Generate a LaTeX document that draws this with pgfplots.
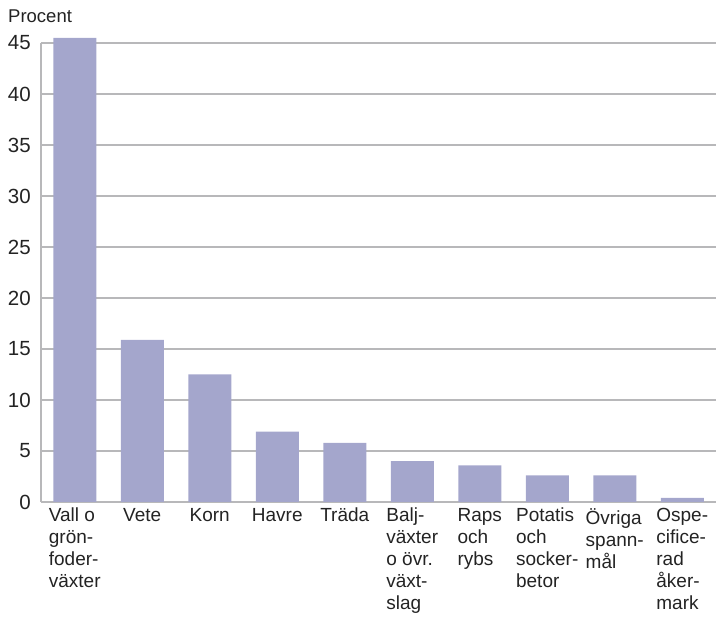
\documentclass[border=0pt]{standalone}
\usepackage{pgfplots}
\pgfplotsset{compat=1.18}
\usepackage{fontspec}
\setmainfont{Liberation Sans}
\definecolor{barcol}{RGB}{164,166,204}
\definecolor{gridcol}{RGB}{184,184,186}
\definecolor{txt}{RGB}{35,35,35}
\begin{document}
\fontsize{18.5}{22}\selectfont
\begin{tikzpicture}
\path[use as bounding box] (-41pt,-115pt) rectangle (675pt,502pt);
\begin{axis}[
    at={(0,0)}, anchor=south west,
    scale only axis,
    width=675pt, height=459pt,
    ybar, bar width=43pt,
    xmin=-0.5, xmax=9.5,
    ymin=0, ymax=45,
    ytick={0,5,...,45},
    xtick={0,...,9},
    xticklabels={
        {Vall o\\grön-\\foder-\\växter},
        {Vete},
        {Korn},
        {Havre},
        {Träda},
        {Balj-\\växter\\o övr.\\växt-\\slag},
        {Raps\\och\\rybs},
        {Potatis\\och\\socker-\\betor},
        {Övriga\\spann-\\mål},
        {Ospe-\\cifice-\\rad\\åker-\\mark}
    },
    axis x line*=bottom,
    axis y line*=left,
    axis line style={draw=gridcol, line width=1.5pt, -},
    ymajorgrids,
    grid style={draw=gridcol, line width=1.5pt},
    major tick length=0pt,
    tick label style={text=txt},
    xticklabel style={font=\fontsize{19}{22}\selectfont, align=left, anchor=north, inner sep=0pt, yshift=-6pt},
    yticklabel style={font=\fontsize{20.5}{22}\selectfont, anchor=east, inner sep=0pt, xshift=-10pt},
    /pgf/number format/assume math mode=true,
    clip=false,
]
\addplot[fill=barcol, draw=none] coordinates {
    (0,45.5) (1,15.9) (2,12.5) (3,6.9) (4,5.8)
    (5,4.0) (6,3.6) (7,2.6) (8,2.6) (9,0.4)
};
\end{axis}
\node[anchor=base west, inner sep=0pt, text=txt] at (-33pt,479pt) {Procent};
\end{tikzpicture}
\end{document}
